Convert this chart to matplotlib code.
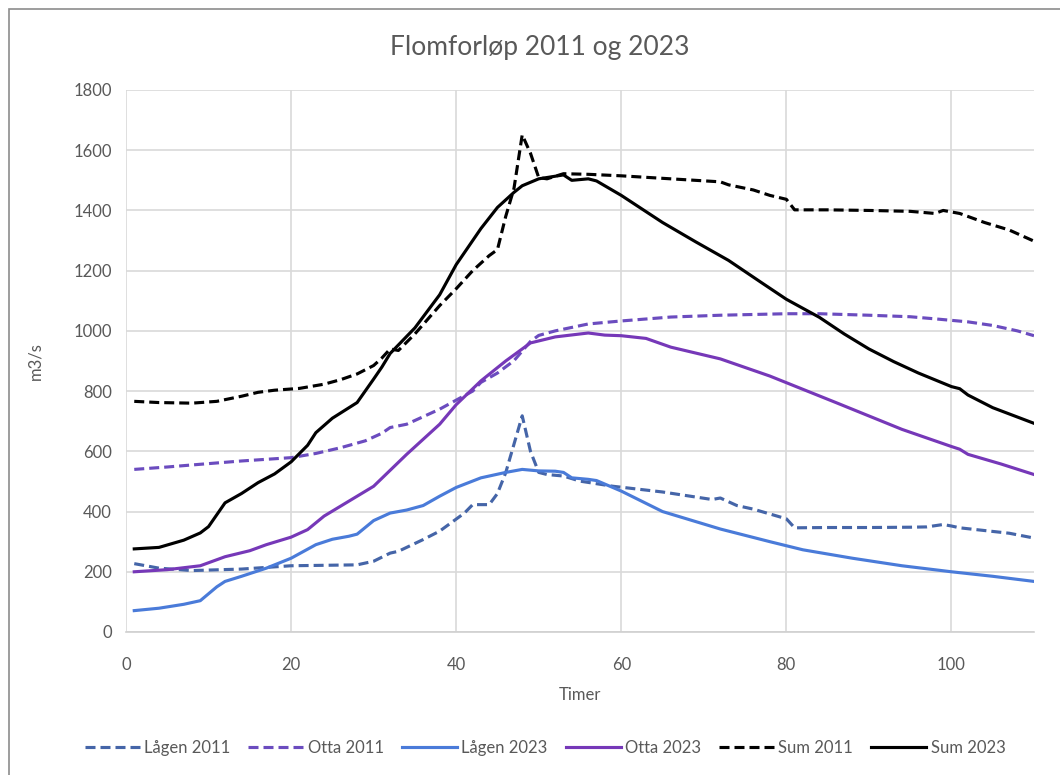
import matplotlib
matplotlib.use("Agg")
import matplotlib.pyplot as plt
from matplotlib.patches import Rectangle

plt.rcParams['font.family'] = ['Lato', 'DejaVu Sans']

title = "Flomforløp 2011 og 2023"
xlabel = "Timer"
ylabel = "m3/s"

lagen2011_x = [1, 4, 8, 14, 20, 28, 30, 32, 33, 36, 38, 40, 41, 42, 44, 45, 46, 48, 49, 50, 51, 53, 55, 59, 65, 71, 72, 74, 76, 79, 80, 81, 85, 90, 95, 97, 99, 100, 101, 103, 107, 110]
lagen2011_y = [227, 212, 204, 209, 220, 223, 235, 262, 268, 307, 335, 375, 395, 423, 423, 460, 529, 718, 600, 530, 523, 518, 501, 484, 465, 440, 445, 420, 408, 384, 376, 346, 347, 347, 348, 349, 357, 352, 346, 340, 328, 312]

otta2011_x = [1, 5, 9, 14, 20, 23, 26, 29, 31, 32, 34, 36, 38, 40, 42, 43, 45, 47, 49, 50, 52, 56, 60, 66, 72, 80, 84, 90, 95, 98, 102, 105, 108, 110]
otta2011_y = [540, 548, 557, 568, 579, 593, 612, 635, 660, 679, 690, 715, 740, 770, 800, 829, 860, 901, 965, 985, 1000, 1023, 1033, 1046, 1052, 1057, 1057, 1052, 1047, 1040, 1030, 1018, 1000, 984]

lagen2023_x = [1, 4, 7, 9, 11, 12, 14, 17, 20, 23, 25, 27, 28, 30, 32, 34, 36, 38, 40, 43, 46, 48, 50, 52, 53, 54, 56, 57, 60, 65, 72, 78, 82, 88, 94, 100, 105, 110]
lagen2023_y = [71, 79, 92, 104, 150, 168, 185, 212, 245, 290, 308, 318, 325, 370, 395, 405, 420, 451, 480, 512, 530, 540, 535, 534, 530, 512, 507, 503, 468, 400, 342, 300, 273, 245, 220, 200, 185, 168]

otta2023_x = [1, 5, 9, 12, 15, 17, 20, 22, 24, 28, 30, 34, 38, 40, 43, 46, 49, 52, 56, 58, 60, 63, 66, 72, 78, 86, 94, 100, 101, 102, 106, 110]
otta2023_y = [200, 207, 220, 250, 270, 290, 315, 340, 385, 451, 484, 590, 690, 755, 834, 900, 960, 980, 993, 986, 984, 975, 946, 907, 850, 762, 673, 616, 607, 590, 558, 523]

sum2011_x = [1, 4, 8, 11, 14, 16, 18, 21, 24, 26, 28, 30, 31, 32, 33, 35, 38, 40, 42, 44, 45, 46, 47, 48, 49, 50, 51, 53, 56, 60, 66, 72, 73, 76, 78, 80, 81, 85, 90, 95, 98, 99, 101, 104, 107, 110]
sum2011_y = [766, 762, 760, 766, 783, 796, 803, 809, 823, 838, 857, 885, 910, 940, 935, 990, 1084, 1140, 1200, 1250, 1270, 1380, 1473, 1651, 1590, 1509, 1505, 1522, 1520, 1515, 1505, 1495, 1485, 1468, 1450, 1437, 1402, 1402, 1400, 1397, 1390, 1400, 1390, 1360, 1335, 1298]

sum2023_x = [1, 4, 7, 9, 10, 12, 14, 16, 18, 20, 22, 23, 25, 28, 30, 31, 32, 35, 38, 40, 43, 45, 47, 48, 50, 53, 54, 56, 57, 60, 65, 69, 73, 77, 80, 84, 87, 90, 93, 96, 100, 101, 102, 105, 110]
sum2023_y = [276, 281, 305, 329, 350, 429, 460, 496, 525, 565, 620, 662, 710, 762, 840, 880, 925, 1010, 1120, 1220, 1340, 1410, 1460, 1482, 1505, 1518, 1500, 1505, 1498, 1450, 1360, 1296, 1234, 1160, 1105, 1045, 990, 940, 898, 860, 815, 808, 787, 745, 693]

series = [
    ("Lågen 2011", lagen2011_x, lagen2011_y, "#4565a8", "dashed"),
    ("Otta 2011", otta2011_x, otta2011_y, "#6b4cbf", "dashed"),
    ("Lågen 2023", lagen2023_x, lagen2023_y, "#4a7bd9", "solid"),
    ("Otta 2023", otta2023_x, otta2023_y, "#7638b8", "solid"),
    ("Sum 2011", sum2011_x, sum2011_y, "#000000", "dashed"),
    ("Sum 2023", sum2023_x, sum2023_y, "#000000", "solid"),
]

fig = plt.figure(figsize=(10.6, 7.75), dpi=100)
ax = fig.add_axes([126 / 1060, 1 - 632 / 775, (1034 - 126) / 1060, (632 - 90) / 775])

for name, xs, ys, col, style in series:
    if style == "dashed":
        ax.plot(xs, ys, color=col, lw=2.25, linestyle=(0, (3.2, 1.6)), label=name,
                solid_joinstyle='round', dash_capstyle='butt')
    else:
        ax.plot(xs, ys, color=col, lw=2.25, label=name, solid_joinstyle='round')

ax.set_xlim(0, 110)
ax.set_ylim(0, 1800)
ax.set_xticks([0, 20, 40, 60, 80, 100])
ax.set_yticks(range(0, 1801, 200))
ax.grid(True, color="#d9d9d9", lw=1.2)
ax.set_axisbelow(True)
for side in ["top", "right", "left"]:
    ax.spines[side].set_visible(False)
ax.spines["bottom"].set_color("#d0d0d0")
ax.spines["bottom"].set_linewidth(1.2)
ax.tick_params(length=0, labelsize=12, colors="#595959")
ax.tick_params(axis="x", pad=18)
ax.tick_params(axis="y", pad=10)
ax.set_xlabel(xlabel, fontsize=12, color="#595959", labelpad=10)
ax.set_ylabel(ylabel, fontsize=12, color="#595959", labelpad=22)

fig.text(540 / 1060, 1 - 47 / 775, title, ha="center", va="center", fontsize=19, color="#595959")

leg = fig.legend(loc="center", bbox_to_anchor=(545 / 1060, 1 - 748 / 775), ncol=6, frameon=False,
                 fontsize=12, handlelength=3.3, handletextpad=0.25, columnspacing=1.1,
                 labelcolor="#595959")

fig.patches.append(Rectangle((9 / 1060, -0.1), 1.2, 1 - 9 / 775 + 0.1, transform=fig.transFigure,
                             fill=False, edgecolor="#8c8c8c", lw=1.2))

fig.savefig("out.png", dpi=100)
